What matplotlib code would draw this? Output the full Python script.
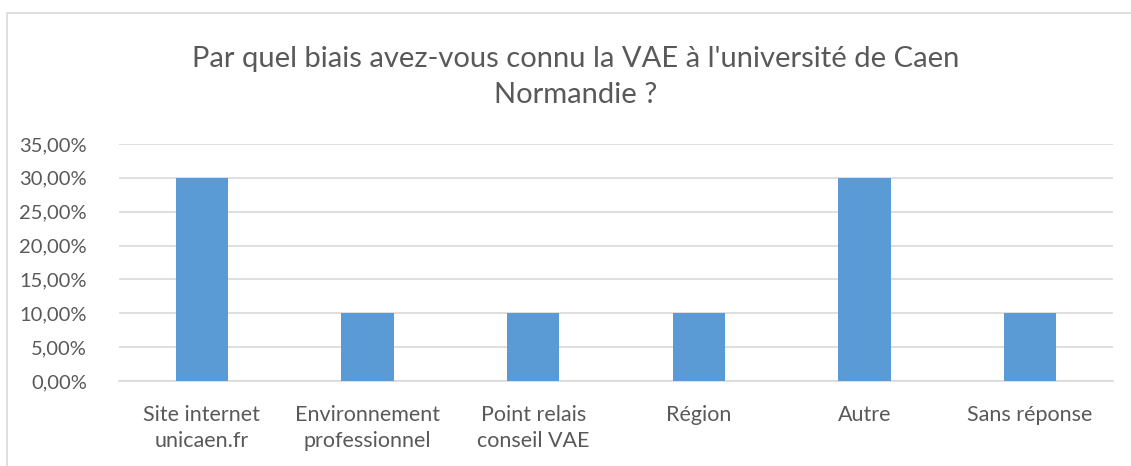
import matplotlib
matplotlib.use("Agg")
import matplotlib.pyplot as plt
from matplotlib.patches import Rectangle
from matplotlib.ticker import FuncFormatter, MultipleLocator

categories = ["Site internet\nunicaen.fr", "Environnement\nprofessionnel", "Point relais\nconseil VAE",
              "Région", "Autre", "Sans réponse"]
values = [0.30, 0.10, 0.10, 0.10, 0.30, 0.10]
title = "Par quel biais avez-vous connu la VAE à l'université de Caen\nNormandie ?"

plt.rcParams['font.family'] = ['Lato', 'DejaVu Sans']
W, H = 1131, 466
fig = plt.figure(figsize=(W / 100, H / 100), dpi=100)
fig.patch.set_facecolor("white")

# chart border
fig.add_artist(Rectangle((7 / W, -0.1), 1.2, 1 - 13 / H + 0.1, transform=fig.transFigure,
                         fill=False, edgecolor="#D9D9D9", linewidth=1.2))

ax = fig.add_axes([119 / W, 1 - 381 / H, (1113 - 119) / W, (381 - 144) / H])
x = range(len(categories))
ax.bar(x, values, width=0.314, color="#5B9BD5", zorder=3)
ax.set_xlim(-0.5, len(categories) - 0.5)
ax.set_ylim(0, 0.35)
ax.yaxis.set_major_locator(MultipleLocator(0.05))
ax.yaxis.set_major_formatter(FuncFormatter(lambda v, p: f"{v*100:.2f}".replace(".", ",") + "%"))
ax.grid(axis="y", color="#D9D9D9", linewidth=1.2, zorder=0)
for s in ["top", "right", "left"]:
    ax.spines[s].set_visible(False)
ax.spines["bottom"].set_color("#D9D9D9")
ax.spines["bottom"].set_linewidth(1.2)
ax.set_xticks(list(x))
ax.set_xticklabels(categories, fontsize=15.5, color="#595959", linespacing=1.4)
ax.tick_params(axis="y", length=0, labelsize=14.5, labelcolor="#595959", pad=23)
ax.tick_params(axis="x", length=0, pad=17)

fig.text(576 / W, 1 - 77 / H, title, ha="center", va="center", fontsize=21,
         color="#595959", linespacing=1.5)

fig.savefig("out.png", dpi=100, facecolor="white")
